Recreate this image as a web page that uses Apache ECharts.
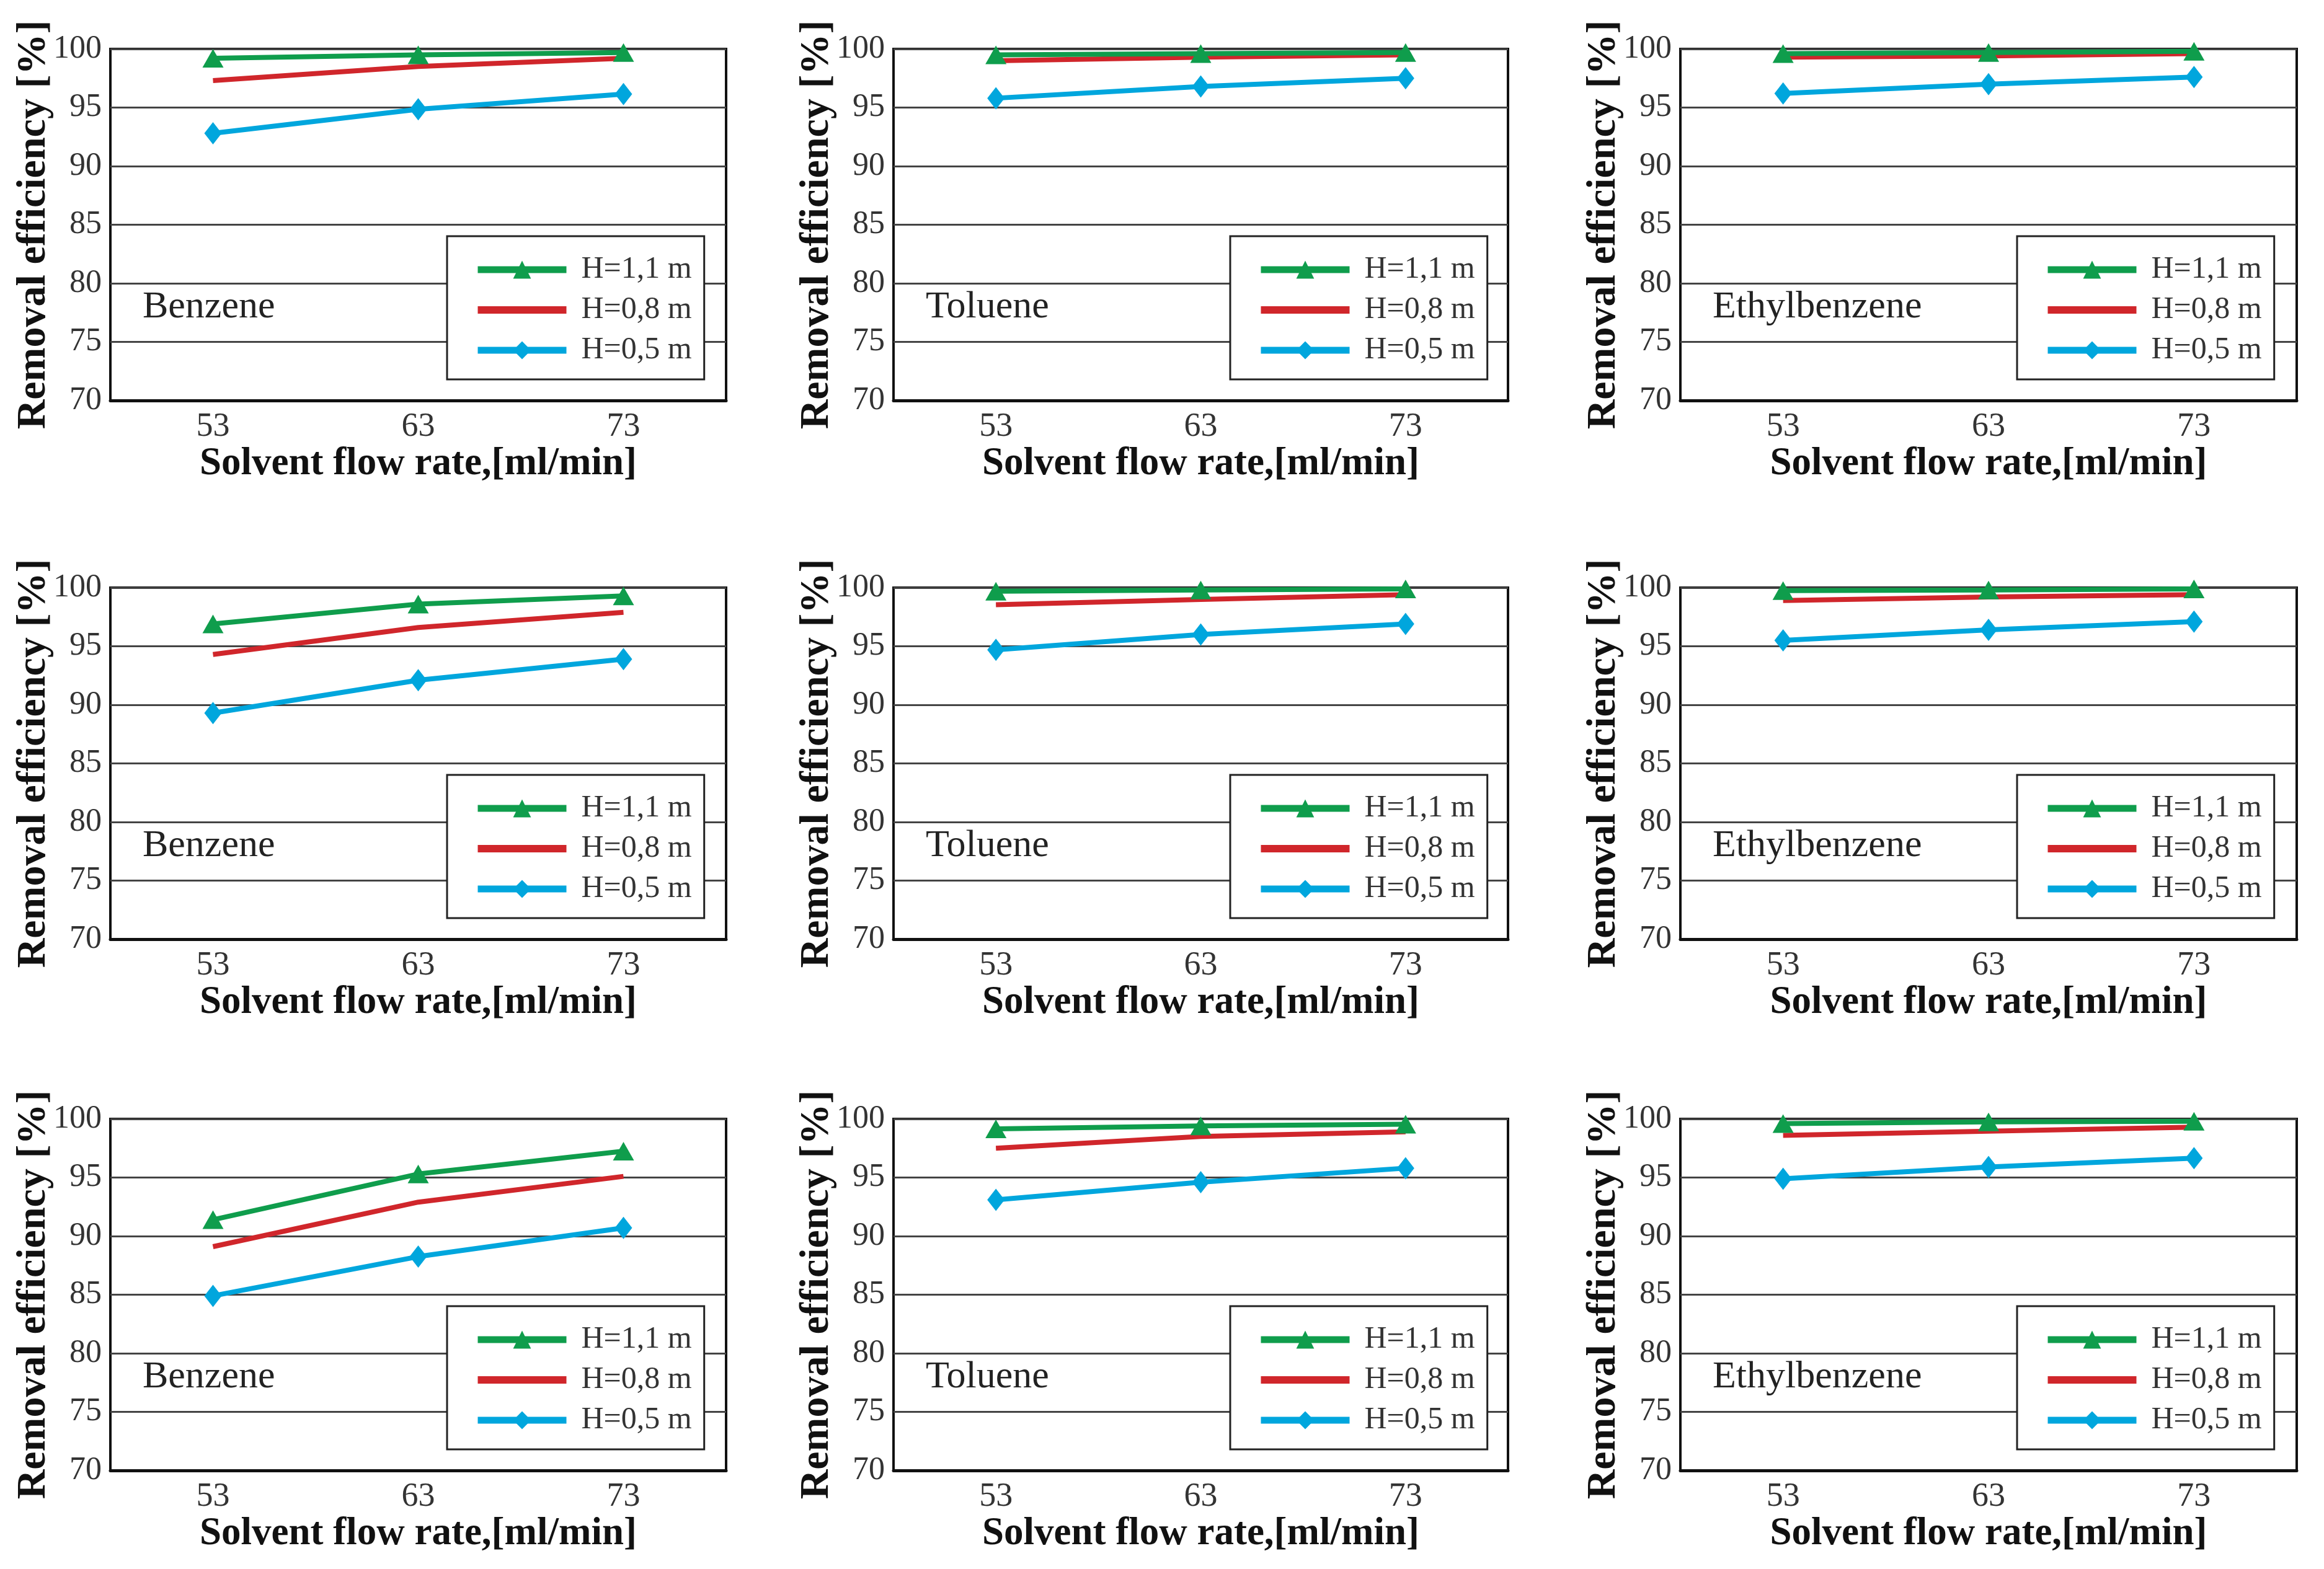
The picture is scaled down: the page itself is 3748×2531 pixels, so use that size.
<!DOCTYPE html>
<html><head><meta charset="utf-8">
<script src="https://cdn.jsdelivr.net/npm/echarts@6/dist/echarts.min.js"></script>
<style>html,body{margin:0;padding:0;background:#fff}#c{width:3748px;height:2531px}</style>
</head><body><div id="c"></div><script>
// ---- data ----
const flowRates = ['53', '63', '73'];
const compounds = ['Benzene', 'Toluene', 'Ethylbenzene'];
const heights = ['H=1,1 m', 'H=0,8 m', 'H=0,5 m'];

// row 1
const benzene1_h11 = [99.2, 99.5, 99.7];
const benzene1_h08 = [97.3, 98.5, 99.2];
const benzene1_h05 = [92.8, 94.85, 96.15];
const toluene1_h11 = [99.5, 99.6, 99.7];
const toluene1_h08 = [99.0, 99.3, 99.5];
const toluene1_h05 = [95.8, 96.8, 97.5];
const ethyl1_h11 = [99.6, 99.7, 99.8];
const ethyl1_h08 = [99.3, 99.4, 99.6];
const ethyl1_h05 = [96.2, 97.0, 97.6];
// row 2
const benzene2_h11 = [96.9, 98.6, 99.3];
const benzene2_h08 = [94.3, 96.6, 97.9];
const benzene2_h05 = [89.3, 92.1, 93.9];
const toluene2_h11 = [99.7, 99.8, 99.9];
const toluene2_h08 = [98.55, 99.0, 99.4];
const toluene2_h05 = [94.7, 96.0, 96.9];
const ethyl2_h11 = [99.75, 99.8, 99.9];
const ethyl2_h08 = [98.9, 99.2, 99.4];
const ethyl2_h05 = [95.5, 96.4, 97.1];
// row 3
const benzene3_h11 = [91.4, 95.3, 97.25];
const benzene3_h08 = [89.1, 92.9, 95.1];
const benzene3_h05 = [84.9, 88.25, 90.7];
const toluene3_h11 = [99.15, 99.4, 99.55];
const toluene3_h08 = [97.5, 98.5, 98.9];
const toluene3_h05 = [93.1, 94.6, 95.8];
const ethyl3_h11 = [99.6, 99.75, 99.8];
const ethyl3_h08 = [98.6, 98.96, 99.3];
const ethyl3_h05 = [94.9, 95.9, 96.65];

const panels = [
  [benzene1_h11, benzene1_h08, benzene1_h05], [toluene1_h11, toluene1_h08, toluene1_h05], [ethyl1_h11, ethyl1_h08, ethyl1_h05],
  [benzene2_h11, benzene2_h08, benzene2_h05], [toluene2_h11, toluene2_h08, toluene2_h05], [ethyl2_h11, ethyl2_h08, ethyl2_h05],
  [benzene3_h11, benzene3_h08, benzene3_h05], [toluene3_h11, toluene3_h08, toluene3_h05], [ethyl3_h11, ethyl3_h08, ethyl3_h05]
];

// ---- layout / style ----
const colLeft = [178, 1441, 2710];
const colWidth = [993, 991, 994];
const rowTop = [79, 948, 1805];
const rowHeight = 567;
const colors = ['#0f9d4c', '#d0262b', '#00a6dd'];
const symbols = ['triangle', 'none', 'diamond'];
const symbolSizes = [[34, 30], 0, [28, 36]];
const FONT = 'Liberation Serif';

const legendData = [
  {name: heights[0]},
  {name: heights[1], icon: 'path://M0,0H143V12H0Z'},
  {name: heights[2]}
];

const grid = [], xAxis = [], yAxis = [], series = [], legend = [], title = [];
for (let r = 0; r < 3; r++) {
  for (let c = 0; c < 3; c++) {
    const i = r * 3 + c;
    const L = colLeft[c], T = rowTop[r], W = colWidth[c];
    grid.push({left: L, top: T, width: W, height: rowHeight, show: true,
      borderColor: '#111', borderWidth: 4, backgroundColor: '#fff', containLabel: false});
    xAxis.push({gridIndex: i, type: 'category', data: flowRates, boundaryGap: true,
      axisLine: {lineStyle: {color: '#111', width: 5}},
      axisTick: {inside: true, alignWithLabel: true, length: 15, lineStyle: {color: '#666', width: 2}},
      axisLabel: {margin: 16, fontSize: 54, fontFamily: FONT, color: '#333'},
      name: 'Solvent flow rate,[ml/min]', nameLocation: 'middle', nameGap: 70,
      nameTextStyle: {fontSize: 63, fontWeight: 'bold', fontFamily: FONT, color: '#111'}});
    yAxis.push({gridIndex: i, type: 'value', min: 70, max: 100, interval: 5,
      axisLine: {show: false}, axisTick: {show: false},
      splitLine: {lineStyle: {color: '#444', width: 3}},
      axisLabel: {margin: 14, fontSize: 52, fontFamily: FONT, color: '#333'},
      name: 'Removal efficiency [%]', nameLocation: 'middle', nameGap: 90, nameMoveOverlap: false,
      nameTextStyle: {fontSize: 66, fontWeight: 'bold', fontFamily: FONT, color: '#111'}});
    for (let s = 2; s >= 0; s--) {
      series.push({type: 'line', name: heights[s], xAxisIndex: i, yAxisIndex: i,
        data: panels[i][s], symbol: symbols[s], symbolSize: symbolSizes[s],
        itemStyle: {color: colors[s]}, lineStyle: {color: colors[s], width: 8},
        z: 3 + (2 - s), animation: false});
    }
    legend.push({data: legendData, orient: 'vertical', left: L + 543, top: T + 302,
      itemWidth: 143, itemHeight: 36, itemGap: 15, padding: [29, 20, 22, 44],
      borderColor: '#222', borderWidth: 3, backgroundColor: '#fff', selectedMode: false,
      lineStyle: {width: 11},
      textStyle: {fontSize: 50, fontFamily: FONT, color: '#333', lineHeight: 50, padding: [0, 0, 0, 19]}});
    title.push({text: compounds[c], left: L + 52, top: T + 386, padding: 0,
      textStyle: {fontSize: 62, fontWeight: 'normal', fontFamily: FONT, color: '#222'}});
  }
}

const chart = echarts.init(document.getElementById('c'), null, {renderer: 'canvas'});
chart.setOption({backgroundColor: '#fff', animation: false, grid, xAxis, yAxis, series, legend, title});
</script></body></html>
